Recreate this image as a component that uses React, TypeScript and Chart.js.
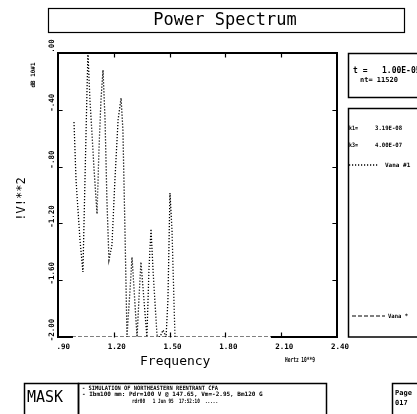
import React, { useEffect, useRef } from "react";
import { Chart, registerables } from "chart.js";

Chart.register(...registerables);

// Series "Vana #1" (dotted) — frequency (GHz) and power (dB x10)
const freqVana1 = [
  0.986, 0.997, 1.018, 1.034, 1.045, 1.056, 1.061, 1.072, 1.094, 1.11, 1.12, 1.131, 1.142,
  1.153, 1.163, 1.174, 1.19, 1.206, 1.223, 1.239, 1.249, 1.26, 1.271, 1.287, 1.298, 1.309,
  1.325, 1.335, 1.346, 1.362, 1.378, 1.389, 1.4, 1.411, 1.432, 1.448, 1.465, 1.481, 1.491,
  1.502, 1.513, 1.529,
];
const powerVana1 = [
  -0.486, -0.894, -1.317, -1.542, -0.894, -0.261, 0.0, -0.331, -0.824, -1.134, -0.683, -0.331,
  -0.12, -0.472, -1.035, -1.458, -1.352, -0.894, -0.472, -0.317, -0.542, -1.246, -2.0, -1.669,
  -1.437, -1.669, -2.0, -1.739, -1.472, -1.739, -2.0, -1.528, -1.239, -1.528, -1.986, -2.0,
  -1.951, -2.0, -1.739, -0.986, -1.246, -2.0,
];
// Series "Vana *" (dashed)
const freqVanaStar = [0.975, 2.05];
const powerVanaStar = [-2.0, -2.0];

const xTickValues = [0.9, 1.2, 1.5, 1.8, 2.1, 2.4];
const xTickLabels = [".90", "1.20", "1.50", "1.80", "2.10", "2.40"];
const yTickValues = [-2.0, -1.6, -1.2, -0.8, -0.4, 0.0];
const yTickLabels = ["-2.00", "-1.60", "-1.20", "-.80", "-.40", ".00"];

const MONO = '"DejaVu Sans Mono", monospace';
const DOT = [1.2, 1.8];

function txt(
  ctx: CanvasRenderingContext2D,
  s: string,
  x: number,
  y: number,
  font: string,
  align: CanvasTextAlign = "left",
  maxW?: number,
  rot = 0
) {
  ctx.save();
  ctx.font = font;
  ctx.fillStyle = "#000";
  ctx.textAlign = align;
  ctx.textBaseline = "middle";
  ctx.translate(x, y);
  if (rot) ctx.rotate(rot);
  if (maxW) ctx.fillText(s, 0, 0, maxW);
  else ctx.fillText(s, 0, 0);
  ctx.restore();
}

const decorPlugin = {
  id: "decor",
  beforeDraw(chart: any) {
    const ctx: CanvasRenderingContext2D = chart.ctx;
    ctx.save();
    ctx.fillStyle = "#fff";
    ctx.fillRect(0, 0, chart.width, chart.height);
    ctx.restore();
  },
  beforeDatasetsDraw(chart: any) {
    const ctx: CanvasRenderingContext2D = chart.ctx;
    const xs = chart.scales.x;
    const ys = chart.scales.y;
    const L = xs.getPixelForValue(0.9);
    const R = xs.getPixelForValue(2.4);
    const T = ys.getPixelForValue(0);
    const B = ys.getPixelForValue(-2);
    ctx.save();
    ctx.strokeStyle = "#000";
    ctx.lineWidth = 2;
    ctx.lineCap = "square";
    ctx.beginPath();
    ctx.moveTo(L, T);
    ctx.lineTo(R, T);
    ctx.lineTo(R, B);
    ctx.moveTo(L, T);
    ctx.lineTo(L, B);
    ctx.lineTo(xs.getPixelForValue(freqVanaStar[0]), B);
    ctx.moveTo(xs.getPixelForValue(freqVanaStar[freqVanaStar.length - 1]), B);
    ctx.lineTo(R, B);
    ctx.stroke();
    ctx.lineWidth = 1.2;
    ctx.beginPath();
    xTickValues.forEach((v, i) => {
      if (i === 0 || i === xTickValues.length - 1) return;
      const px = Math.round(xs.getPixelForValue(v)) + 0.5;
      ctx.moveTo(px, T);
      ctx.lineTo(px, T + 4);
      ctx.moveTo(px, B);
      ctx.lineTo(px, B - 4);
    });
    yTickValues.forEach((v, i) => {
      if (i === 0 || i === yTickValues.length - 1) return;
      const py = Math.round(ys.getPixelForValue(v)) + 0.5;
      ctx.moveTo(L, py);
      ctx.lineTo(L + 4, py);
      ctx.moveTo(R, py);
      ctx.lineTo(R - 4, py);
    });
    ctx.stroke();
    ctx.restore();

    xTickValues.forEach((v, i) => {
      txt(ctx, xTickLabels[i], xs.getPixelForValue(v) + 12, 347, "bold 7.5px " + MONO, "right");
    });
    yTickValues.forEach((v, i) => {
      txt(ctx, yTickLabels[i], 52, ys.getPixelForValue(v) - 7, "bold 7.5px " + MONO, "center", undefined, -Math.PI / 2);
    });

    txt(ctx, "Frequency", 140, 362, "13px " + MONO, "left");
    txt(ctx, "Hertz 10**9", 300, 360, "bold 7px " + MONO, "center", 30);
    txt(ctx, "!V!**2", 22, 199, "12px " + MONO, "center", undefined, -Math.PI / 2);
    txt(ctx, "dB 10#1", 33, 75, "bold 6px " + MONO, "center", 25, -Math.PI / 2);

    ctx.save();
    ctx.strokeStyle = "#000";
    ctx.lineWidth = 1.2;
    ctx.strokeRect(48.5, 8.5, 356, 24);
    ctx.restore();
    txt(ctx, "Power Spectrum", 225, 21, "17px " + MONO, "center");

    ctx.save();
    ctx.strokeStyle = "#000";
    ctx.lineWidth = 1.5;
    ctx.strokeRect(348.5, 53.5, 90, 44);
    ctx.strokeRect(348.5, 108.5, 90, 228.5);
    ctx.restore();
    txt(ctx, "t =", 353, 71, "bold 8px " + MONO, "left");
    txt(ctx, "1.00E-05", 382, 71, "bold 8px " + MONO, "left");
    txt(ctx, "nt= 11520", 360, 80, "bold 7px " + MONO, "left");
    txt(ctx, "k1=", 349, 128, "bold 6px " + MONO, "left", 9);
    txt(ctx, "3.19E-08", 375, 128, "bold 6px " + MONO, "left", 27);
    txt(ctx, "k3=", 349, 145, "bold 6px " + MONO, "left", 9);
    txt(ctx, "4.00E-07", 375, 145, "bold 6px " + MONO, "left", 27);

    ctx.save();
    ctx.strokeStyle = "#000";
    ctx.lineWidth = 1.3;
    ctx.lineCap = "butt";
    ctx.setLineDash(DOT);
    ctx.beginPath();
    ctx.moveTo(349, 165);
    ctx.lineTo(379, 165);
    ctx.stroke();
    ctx.lineWidth = 1.2;
    ctx.setLineDash([4, 2]);
    ctx.beginPath();
    ctx.moveTo(352, 316);
    ctx.lineTo(385, 316);
    ctx.stroke();
    ctx.restore();
    txt(ctx, "Vana #1", 385, 165, "bold 6px " + MONO, "left", 26);
    txt(ctx, "Vana *", 388, 316, "bold 6px " + MONO, "left", 20);

    ctx.save();
    ctx.strokeStyle = "#000";
    ctx.lineWidth = 1.5;
    ctx.strokeRect(24.5, 383.5, 54, 40);
    ctx.strokeRect(78.5, 383.5, 248, 40);
    ctx.strokeRect(392.5, 383.5, 40, 40);
    ctx.restore();
    txt(ctx, "MASK", 45, 398, "15px " + MONO, "center");
    txt(ctx, "- SIMULATION OF NORTHEASTERN REENTRANT CFA", 82, 388, "bold 6px " + MONO, "left", 136);
    txt(ctx, "- Ibm100 mm: Pdr=100 V @ 147.65, Vm=-2.95, Bm120 G", 82, 394.5, "bold 6px " + MONO, "left", 183);
    txt(ctx, "rdr00   1 Jun 95  17:52:10  .....", 132, 401, "bold 6px " + MONO, "left", 86);
    txt(ctx, "Page", 395, 393, "bold 7px " + MONO, "left", 22);
    txt(ctx, "017", 395, 403, "bold 7px " + MONO, "left", 16);
  },
};

export default function App() {
  const ref = useRef<HTMLCanvasElement | null>(null);
  useEffect(() => {
    if (!ref.current) return;
    const chart = new Chart(ref.current, {
      type: "line",
      data: {
        datasets: [
          {
            label: "Vana #1",
            data: freqVana1.map((f, i) => ({ x: f, y: powerVana1[i] })),
            borderColor: "#000",
            borderWidth: 1.3,
            borderDash: DOT,
            borderCapStyle: "butt",
            pointRadius: 0,
            tension: 0,
            fill: false,
          },
          {
            label: "Vana *",
            data: freqVanaStar.map((f, i) => ({ x: f, y: powerVanaStar[i] })),
            borderColor: "#000",
            borderWidth: 1.2,
            borderDash: [4, 2],
            pointRadius: 0,
            tension: 0,
            fill: false,
          },
        ],
      },
      options: {
        animation: false,
        responsive: false,
        devicePixelRatio: 1,
        layout: { padding: { left: 58, right: 80, top: 53, bottom: 77 } },
        scales: {
          x: { type: "linear", min: 0.9, max: 2.4, display: false },
          y: { type: "linear", min: -2, max: 0, display: false },
        },
        plugins: { legend: { display: false }, tooltip: { enabled: false } },
      },
      plugins: [decorPlugin],
    });
    return () => chart.destroy();
  }, []);
  return (
    <canvas
      ref={ref}
      width={417}
      height={414}
      style={{ position: "fixed", left: 0, top: 0, width: 417, height: 414, display: "block" }}
    />
  );
}
